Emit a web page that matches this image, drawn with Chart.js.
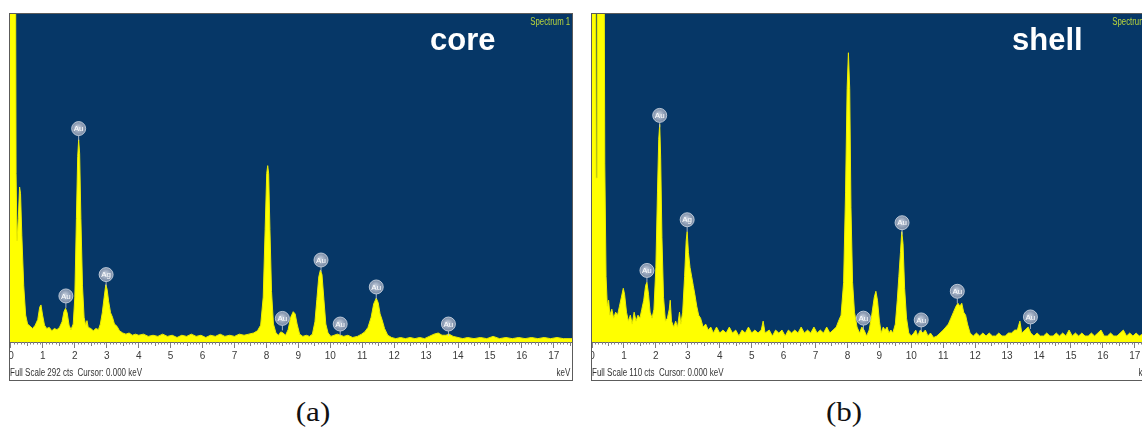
<!DOCTYPE html>
<html>
<head>
<meta charset="utf-8">
<script src="https://cdn.jsdelivr.net/npm/chart.js@4.4.1/dist/chart.umd.min.js"></script>
<style>
  html, body { margin: 0; padding: 0; background: #fff; width: 1142px; height: 427px; overflow: hidden; }
  body { position: relative; }
  .panel { position: absolute; top: 13px; width: 564px; height: 368px; border: 1px solid #5c5c5c; box-sizing: border-box; background: #fff; }
  .panel canvas { position: absolute; left: 0; top: 0; }
  .tag { position: absolute; left: 420px; top: 10px; color: #fff; font: bold 31px "Liberation Sans", Arial, sans-serif; line-height: 31px; }
  .spec { position: absolute; right: 2px; top: 3px; color: #b9d43c; font: 10px "Liberation Sans", Arial, sans-serif; line-height: 10px; transform: scaleX(0.78); transform-origin: right center; }
  .foot { position: absolute; top: 354px; color: #333; font: 10px "Liberation Sans", Arial, sans-serif; line-height: 10px; transform: scaleX(0.8); transform-origin: left center; }
  .foot.end { right: 2px; transform-origin: right center; }
  .cap { position: absolute; top: 397px; width: 80px; text-align: center; font: 27px "Liberation Serif", "Times New Roman", serif; line-height: 30px; color: #111; transform: scaleX(1.15); }
</style>
</head>
<body>
<div class="panel" style="left:9px">
  <canvas id="coreChart" width="562" height="366"></canvas>
  <div class="tag">core</div>
  <div class="spec">Spectrum 1</div>
  <div class="foot" style="left:0">Full Scale 292 cts&nbsp; Cursor: 0.000 keV</div>
  <div class="foot end">keV</div>
</div>
<div class="panel" style="left:591px">
  <canvas id="shellChart" width="562" height="366"></canvas>
  <div class="tag">shell</div>
  <div class="spec">Spectrum 1</div>
  <div class="foot" style="left:0">Full Scale 110 cts&nbsp; Cursor: 0.000 keV</div>
  <div class="foot end">keV</div>
</div>
<div class="cap" style="left:273px">(a)</div>
<div class="cap" style="left:804px">(b)</div>

<script>
// x axis ticks (keV)
const tickKeV = [0, 1, 2, 3, 4, 5, 6, 7, 8, 9, 10, 11, 12, 13, 14, 15, 16, 17];

// (a) core spectrum, full scale 292 cts
const coreFullScale = 292;
const coreKeV = [
  -0.06, 0.14, 0.16, 0.19, 0.23, 0.27, 0.30, 0.34, 0.40, 0.46, 0.52, 0.60, 0.68, 0.76, 0.84, 0.90, 0.94, 0.99,
  1.05, 1.12, 1.20, 1.28, 1.36, 1.44, 1.52, 1.60, 1.66, 1.71, 1.76, 1.82, 1.88, 1.95,
  2.00, 2.05, 2.09, 2.12, 2.15, 2.19, 2.24, 2.29, 2.34, 2.38, 2.42, 2.50, 2.58, 2.66, 2.74, 2.80, 2.86, 2.92, 2.97,
  3.01, 3.06, 3.12, 3.18, 3.24, 3.32, 3.40, 3.50, 3.60, 3.70, 3.80, 3.90,
  4.00, 4.15, 4.30, 4.45, 4.60, 4.75, 4.90, 5.05, 5.20, 5.35, 5.50, 5.65, 5.80, 5.95,
  6.10, 6.25, 6.40, 6.55, 6.70, 6.85, 7.00, 7.15, 7.30, 7.45, 7.60, 7.72, 7.82, 7.90, 7.96,
  8.01, 8.04, 8.07, 8.11, 8.16, 8.22, 8.30, 8.38, 8.45, 8.52, 8.60, 8.68, 8.76, 8.84, 8.90, 8.96,
  9.04, 9.14, 9.25, 9.35, 9.44, 9.52, 9.58, 9.64, 9.69, 9.74, 9.80, 9.86, 9.93,
  10.02, 10.12, 10.22, 10.32, 10.42, 10.55, 10.70, 10.85, 10.98,
  11.08, 11.18, 11.28, 11.36, 11.44, 11.50, 11.56, 11.62, 11.70, 11.80, 11.92,
  12.05, 12.20, 12.35, 12.50, 12.65, 12.80, 12.95, 13.10, 13.25, 13.38, 13.50, 13.62, 13.72, 13.85,
  14.00, 14.15, 14.30, 14.50, 14.70, 14.90, 15.10, 15.30, 15.50, 15.70, 15.90,
  16.10, 16.30, 16.50, 16.70, 16.90, 17.10, 17.30, 17.60
];
const coreCts = [
  400, 400, 150, 90, 110, 138, 132, 95, 50, 24, 16, 14, 12, 15, 20, 31, 33, 24,
  15, 12, 13, 10, 12, 11, 13, 18, 27, 30, 26, 15, 11, 16,
  40, 110, 165, 180, 168, 110, 50, 22, 15, 19, 13, 12, 10, 12, 11, 16, 26, 40, 51,
  47, 36, 26, 22, 16, 14, 10, 8, 7, 8, 6, 7,
  6, 7, 5, 6, 5, 7, 5, 6, 4, 6, 5, 7, 5, 6,
  4, 6, 5, 7, 5, 6, 5, 7, 6, 7, 8, 10, 15, 40, 100,
  150, 157, 150, 100, 45, 16, 8, 6, 9, 8, 6, 11, 22, 27, 25, 16,
  7, 5, 6, 5, 7, 18, 38, 58, 64, 60, 38, 16, 8,
  5, 6, 7, 6, 5, 6, 4, 5, 7,
  9, 13, 22, 34, 39, 35, 25, 20, 12, 6, 4,
  3, 4, 3, 4, 3, 4, 3, 5, 7, 8, 6, 6, 7, 5,
  4, 3, 4, 3, 4, 3, 5, 3, 4, 3, 4,
  3, 4, 3, 4, 3, 4, 3, 3
];
const coreMarkKeV = [1.72, 2.12, 2.98, 8.5, 9.71, 10.31, 11.44, 13.7];
const coreMarkCts = [41, 190, 60, 21, 73, 16, 49, 16];
const coreMarkText = ["Au", "Au", "Ag", "Au", "Au", "Au", "Au", "Au"];

// (b) shell spectrum, full scale 110 cts
const shellFullScale = 110;
const shellKeV = [
  -0.02, 0.10, 0.13, 0.16, 0.19, 0.36, 0.40, 0.44, 0.48, 0.52, 0.56, 0.62, 0.68, 0.74, 0.80, 0.86, 0.92, 0.98,
  1.02, 1.08, 1.14, 1.20, 1.26, 1.32, 1.38, 1.44, 1.50, 1.56, 1.62, 1.68, 1.72, 1.77, 1.82, 1.88, 1.94,
  2.00, 2.05, 2.09, 2.12, 2.15, 2.19, 2.24, 2.30, 2.36, 2.42, 2.45, 2.49, 2.56, 2.62, 2.68, 2.74, 2.78, 2.84, 2.90, 2.95, 2.98,
  3.02, 3.07, 3.12, 3.17, 3.22, 3.28, 3.34, 3.40, 3.48, 3.56, 3.64, 3.72, 3.80, 3.90,
  4.00, 4.10, 4.20, 4.30, 4.40, 4.50, 4.60, 4.70, 4.80, 4.90,
  5.00, 5.10, 5.20, 5.30, 5.36, 5.42, 5.55, 5.65, 5.75, 5.85, 5.95,
  6.05, 6.15, 6.25, 6.35, 6.45, 6.55, 6.65, 6.75, 6.85, 6.95,
  7.05, 7.15, 7.25, 7.35, 7.45, 7.55, 7.65, 7.72, 7.80, 7.88, 7.94, 7.99,
  8.03, 8.07, 8.11, 8.16, 8.22, 8.30, 8.38, 8.45, 8.52, 8.60, 8.68, 8.76, 8.84, 8.89, 8.94,
  9.00, 9.06, 9.12, 9.18, 9.24, 9.30, 9.36, 9.42, 9.50, 9.56, 9.61, 9.66, 9.70, 9.74, 9.79, 9.85, 9.92,
  10.00, 10.08, 10.14, 10.20, 10.28, 10.36, 10.44, 10.52, 10.60, 10.70, 10.80, 10.90,
  11.00, 11.08, 11.16, 11.24, 11.32, 11.40, 11.46, 11.52, 11.58, 11.64, 11.70, 11.76, 11.84, 11.94,
  12.04, 12.14, 12.24, 12.34, 12.44, 12.54, 12.64, 12.74, 12.84, 12.94,
  13.04, 13.14, 13.24, 13.32, 13.40, 13.46, 13.56, 13.66, 13.74, 13.84, 13.94,
  14.04, 14.14, 14.24, 14.34, 14.44, 14.54, 14.64, 14.74, 14.84, 14.94,
  15.04, 15.14, 15.24, 15.34, 15.44, 15.54, 15.64, 15.74, 15.84, 15.94,
  16.04, 16.14, 16.24, 16.34, 16.44, 16.54, 16.64, 16.74, 16.84, 16.94,
  17.04, 17.14, 17.30, 17.60
];
const shellCts = [
  200, 200, 55, 55, 200, 200, 60, 22, 12, 14, 9, 11, 8, 10, 9, 12, 15, 18,
  16, 10, 7, 9, 6, 10, 7, 9, 8, 11, 14, 19, 20, 16, 10, 8, 11,
  25, 50, 68, 73, 62, 35, 15, 7, 8, 11, 14, 7, 5, 7, 5, 10, 6, 10, 22, 34, 37,
  30, 25, 22, 19, 16, 12, 9, 8, 5, 6, 4, 5, 3, 5,
  3, 4, 3, 5, 3, 4, 2, 4, 3, 5,
  3, 4, 3, 4, 7, 3, 4, 2, 4, 3, 4,
  2, 4, 3, 4, 3, 5, 3, 4, 3, 5,
  3, 4, 3, 5, 3, 4, 5, 7, 9, 20, 50, 85,
  97, 85, 45, 20, 10, 5, 3, 5, 4, 2, 4, 9, 15, 17, 14,
  7, 3, 5, 4, 5, 3, 4, 3, 6, 14, 22, 30, 37, 33, 18, 8, 3,
  2, 3, 4, 2, 4, 3, 4, 2, 3, 1.5, 2, 3,
  4, 5, 6, 8, 10, 12, 13, 12, 13, 10, 9, 6, 3, 2,
  3, 2, 3, 2, 3, 2, 2, 3, 2, 2,
  3, 3, 4, 4, 7, 3, 4, 5, 3, 2, 3,
  2, 2, 3, 2, 2, 3, 2, 3, 2, 4,
  2, 3, 2, 3, 2, 2, 3, 2, 3, 4,
  2, 2, 3, 2, 2, 3, 4, 2, 3, 2,
  3, 2, 3, 2
];
const shellMarkKeV = [1.72, 2.12, 2.98, 8.5, 9.71, 10.31, 11.44, 13.73];
const shellMarkCts = [24, 76, 41, 8, 40, 7.4, 17, 8.4];
const shellMarkText = ["Au", "Au", "Ag", "Au", "Au", "Au", "Au", "Au"];

const PLOT_BLUE = "#063767";
const SPECTRUM_YELLOW = "#ffff00";
const AXIS_FONT = '"Liberation Sans", Arial, sans-serif';

// blue plot field + fine ruler ticks under the axis
const spectrumFrame = {
  id: "spectrumFrame",
  beforeDraw(chart) {
    const { ctx, chartArea: a } = chart;
    ctx.save();
    ctx.fillStyle = PLOT_BLUE;
    ctx.fillRect(a.left, a.top, a.right - a.left, a.bottom - a.top);
    ctx.restore();
  },
  afterDraw(chart) {
    const { ctx, chartArea: a } = chart;
    const xs = chart.scales.x;
    ctx.save();
    ctx.strokeStyle = "#808080";
    ctx.lineWidth = 1;
    for (let i = Math.ceil(xs.min * 10); i <= Math.floor(xs.max * 10); i++) {
      if (i % 10 === 0) continue;
      const px = Math.round(xs.getPixelForValue(i / 10)) + 0.5;
      const len = i % 5 === 0 ? 4 : 2.5;
      ctx.beginPath();
      ctx.moveTo(px, a.bottom);
      ctx.lineTo(px, a.bottom + len);
      ctx.stroke();
    }
    ctx.restore();
  }
};

// grey element bubbles over the peaks
const peakMarkers = {
  id: "peakMarkers",
  afterDatasetsDraw(chart, _args, opts) {
    const { ctx } = chart;
    const xs = chart.scales.x;
    const ys = chart.scales.y;
    const r = 7;
    ctx.save();
    opts.keV.forEach((k, i) => {
      const cx = xs.getPixelForValue(k);
      const cy = ys.getPixelForValue(opts.cts[i]);
      ctx.strokeStyle = "rgba(190,198,212,0.85)";
      ctx.lineWidth = 1;
      ctx.beginPath();
      ctx.moveTo(cx, cy + r);
      ctx.lineTo(cx, cy + r + 5);
      ctx.stroke();
      const g = ctx.createRadialGradient(cx - 1, cy - 1, 1, cx, cy, r);
      g.addColorStop(0, "rgba(200,208,222,0.95)");
      g.addColorStop(1, "rgba(130,145,170,0.9)");
      ctx.fillStyle = g;
      ctx.beginPath();
      ctx.arc(cx, cy, r, 0, Math.PI * 2);
      ctx.fill();
      ctx.strokeStyle = "rgba(215,222,232,0.8)";
      ctx.stroke();
      ctx.fillStyle = "#ffffff";
      ctx.font = "8px " + AXIS_FONT;
      ctx.textAlign = "center";
      ctx.textBaseline = "middle";
      ctx.fillText(opts.text[i], cx, cy + 0.5);
    });
    ctx.restore();
  }
};

function createSpectrumChart(canvasNode, keV, cts, fullScale, xMin, marks) {
  return new Chart(canvasNode, {
    type: "line",
    data: {
      datasets: [
        {
          data: keV.map((k, i) => ({ x: k, y: cts[i] })),
          fill: "origin",
          backgroundColor: SPECTRUM_YELLOW,
          borderColor: "#ecec00",
          borderWidth: 1,
          pointRadius: 0,
          tension: 0
        }
      ]
    },
    options: {
      responsive: false,
      animation: false,
      layout: { padding: 0 },
      plugins: {
        legend: { display: false },
        tooltip: { enabled: false },
        peakMarkers: marks
      },
      scales: {
        x: {
          type: "linear",
          min: xMin,
          max: xMin + 17.6,
          afterBuildTicks: (scale) => {
            scale.ticks = tickKeV.map((v) => ({ value: v }));
          },
          afterFit: (scale) => {
            scale.height = 38;
            scale.paddingLeft = 0;
            scale.paddingRight = 0;
          },
          ticks: {
            autoSkip: false,
            maxRotation: 0,
            padding: 2,
            color: "#3a3a3a",
            font: { family: AXIS_FONT, size: 10 },
            callback: (v) => String(v)
          },
          grid: { drawOnChartArea: false, tickLength: 6, color: "#808080" },
          border: { color: "#6a6a6a" }
        },
        y: { display: false, min: 0, max: fullScale }
      }
    },
    plugins: [spectrumFrame, peakMarkers]
  });
}

createSpectrumChart(document.getElementById("coreChart"), coreKeV, coreCts, coreFullScale, -0.03, {
  keV: coreMarkKeV,
  cts: coreMarkCts,
  text: coreMarkText
});
createSpectrumChart(document.getElementById("shellChart"), shellKeV, shellCts, shellFullScale, 0, {
  keV: shellMarkKeV,
  cts: shellMarkCts,
  text: shellMarkText
});
</script>
</body>
</html>
